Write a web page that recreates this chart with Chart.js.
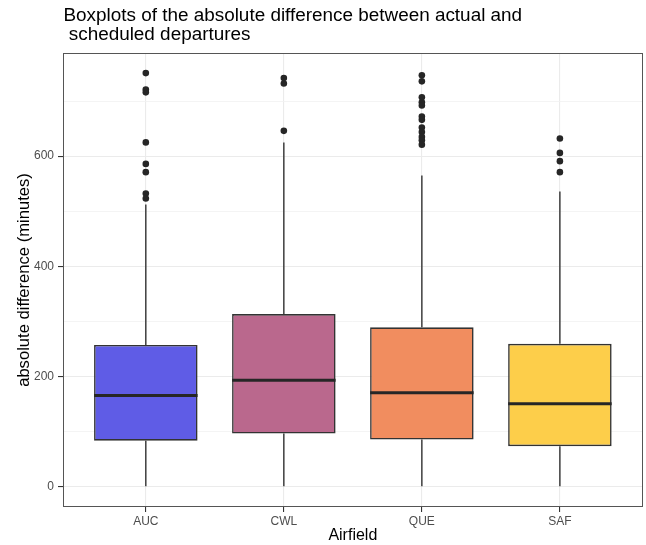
<!DOCTYPE html>
<html><head><meta charset="utf-8">
<script src="https://cdn.jsdelivr.net/npm/chart.js@4.4.0/dist/chart.umd.min.js"></script>
<style>html,body{margin:0;padding:0;background:#fff;}canvas{display:block;}</style>
</head><body>
<canvas id="c" width="646" height="545"></canvas>
<script>
// ---- data ----
const categories = ['AUC', 'CWL', 'QUE', 'SAF'];
const whiskerLow = [0, 0, 0, 0];
const q1 = [83, 96, 85, 73];
const medians = [165, 193, 170, 150];
const q3 = [257, 313, 289, 259];
const whiskerHigh = [512, 625, 565, 536];
const outliersAUC = [751, 721, 716, 625, 586, 571, 532, 523];
const outliersCWL = [742, 732, 646];
const outliersQUE = [747, 736, 707, 698, 692, 672, 666, 652, 644, 635, 629, 621];
const outliersSAF = [632, 606, 591, 571];
const yTicks = [0, 200, 400, 600];
const yMinorGrid = [100, 300, 500, 700];
const fillColors = ['#5F5CE6', '#BA688D', '#F18D5F', '#FDCE4A'];
const titleLines = ['Boxplots of the absolute difference between actual and', ' scheduled departures'];
const xTitle = 'Airfield';
const yTitle = 'absolute difference (minutes)';

const FONT = "'Liberation Sans', Arial, Helvetica, sans-serif";
Chart.defaults.font.family = FONT;

const outlierPoints = [];
[outliersAUC, outliersCWL, outliersQUE, outliersSAF].forEach((arr, i) =>
  arr.forEach(v => outlierPoints.push({ x: i, y: v })));

const boxExtras = {
  id: 'boxExtras',
  beforeDatasetsDraw(chart) {
    const { ctx, scales: { x, y } } = chart;
    ctx.save();
    ctx.strokeStyle = '#333333';
    ctx.lineWidth = 1.4;
    categories.forEach((c, i) => {
      const px = x.getPixelForValue(i);
      ctx.beginPath();
      ctx.moveTo(px, y.getPixelForValue(whiskerLow[i]));
      ctx.lineTo(px, y.getPixelForValue(q1[i]));
      ctx.moveTo(px, y.getPixelForValue(q3[i]));
      ctx.lineTo(px, y.getPixelForValue(whiskerHigh[i]));
      ctx.stroke();
    });
    ctx.restore();
  },
  afterDatasetsDraw(chart) {
    const { ctx, scales: { y } } = chart;
    const meta = chart.getDatasetMeta(0);
    ctx.save();
    ctx.strokeStyle = '#262626';
    ctx.lineWidth = 3;
    meta.data.forEach((bar, i) => {
      const half = bar.width / 2;
      const py = y.getPixelForValue(medians[i]);
      ctx.beginPath();
      ctx.moveTo(bar.x - half, py);
      ctx.lineTo(bar.x + half, py);
      ctx.stroke();
    });
    ctx.restore();
  },
  afterDraw(chart) {
    const { ctx, chartArea: a } = chart;
    ctx.save();
    ctx.strokeStyle = '#555555';
    ctx.lineWidth = 1;
    ctx.strokeRect(Math.round(a.left) + 0.5, Math.round(a.top) + 0.5,
      Math.round(a.right - a.left) - 1, Math.round(a.bottom - a.top) - 1);
    ctx.fillStyle = '#000';
    ctx.font = '18.9px ' + FONT;
    ctx.textBaseline = 'alphabetic';
    ctx.textAlign = 'left';
    ctx.fillText(titleLines[0], a.left + 0.5, 20.7);
    ctx.fillText(titleLines[1], a.left + 0.5, 40);
    ctx.restore();
  }
};

new Chart(document.getElementById('c'), {
  data: {
    datasets: [
      {
        type: 'bar',
        data: categories.map((c, i) => ({ x: i, y: [q1[i], q3[i]] })),
        backgroundColor: fillColors,
        borderColor: '#333333',
        borderWidth: 1.6,
        borderSkipped: false,
        categoryPercentage: 0.75,
        barPercentage: 1,
        grouped: false,
        order: 1
      },
      {
        type: 'scatter',
        data: outlierPoints,
        backgroundColor: '#262626',
        borderColor: '#262626',
        borderWidth: 0,
        pointRadius: 3.3,
        pointHoverRadius: 3.3,
        order: 0
      }
    ]
  },
  options: {
    responsive: false,
    devicePixelRatio: 1,
    animation: false,
    events: [],
    layout: { padding: { top: 53, right: 2, bottom: 0, left: 0 } },
    plugins: { legend: { display: false }, tooltip: { enabled: false }, title: { display: false } },
    scales: {
      x: {
        type: 'linear',
        offset: false,
        min: -0.6,
        max: 3.6,
        afterBuildTicks(s) { s.ticks = categories.map((c, i) => ({ value: i })); },
        afterFit(s) { s.height = 38; },
        ticks: {
          callback: v => categories[v],
          color: '#4d4d4d',
          font: { size: 12 },
          padding: 2,
          autoSkip: false,
          maxRotation: 0
        },
        grid: { offset: false, color: '#ebebeb', lineWidth: 1.1, tickLength: 5, tickColor: '#333333' },
        border: { display: false },
        title: { display: true, text: xTitle, color: '#000', font: { size: 16 }, padding: { top: 0, bottom: 0 } }
      },
      y: {
        type: 'linear',
        min: -37.5,
        max: 787.5,
        afterBuildTicks(s) {
          s.ticks = yTicks.concat(yMinorGrid).sort((a, b) => a - b).map(v => ({ value: v }));
        },
        afterFit(s) { s.width = 63; },
        ticks: {
          callback: v => yTicks.includes(v) ? String(v) : '',
          color: '#4d4d4d',
          font: { size: 12 },
          padding: 4
        },
        grid: {
          color: ctx => yTicks.includes(ctx.tick && ctx.tick.value) ? '#ebebeb' : '#f1f1f1',
          lineWidth: ctx => yTicks.includes(ctx.tick && ctx.tick.value) ? 1.1 : 0.8,
          tickLength: 5,
          tickColor: ctx => yTicks.includes(ctx.tick && ctx.tick.value) ? '#333333' : 'rgba(0,0,0,0)'
        },
        border: { display: false },
        title: { display: true, text: yTitle, color: '#000', font: { size: 16.6 }, padding: { top: 14, bottom: 0 } }
      }
    }
  },
  plugins: [boxExtras]
});
</script>
</body></html>
